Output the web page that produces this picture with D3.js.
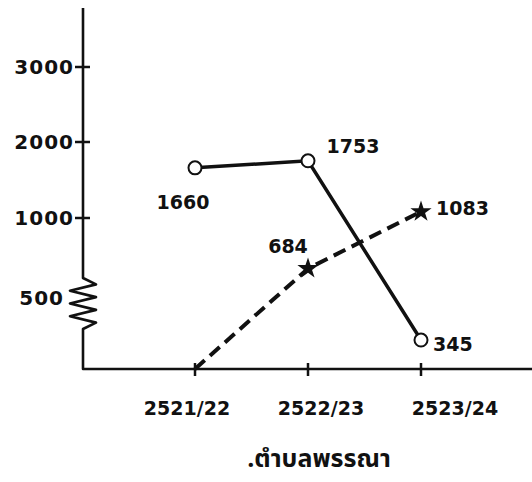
<!DOCTYPE html>
<html>
<head>
<meta charset="utf-8">
<script src="https://cdn.jsdelivr.net/npm/d3@7/dist/d3.min.js"></script>
<style>
  html, body { margin: 0; padding: 0; background: #fff; }
  svg { display: block; }
  text { font-family: "DejaVu Sans", sans-serif; font-weight: bold; fill: #111; }
</style>
</head>
<body>
<svg id="chart" width="532" height="482"></svg>
<script>
// ---- data ----
const years = ["2521/22", "2522/23", "2523/24"];
const seriesA = [1660, 1753, 345];      // solid line, open circles
const seriesB = [0, 684, 1083];         // dashed line, stars
const labelsB = [null, "684", "1083"];
const yTicks = [1000, 2000, 3000];
const breakTick = 500;
const title = ".ตำบลพรรณา";

// ---- layout ----
const svg = d3.select("#chart");
const axisX = 83, axisY = 369, axisTop = 8;

const x = d3.scalePoint().domain(years).range([195, 421]);
const xLabel = d3.scalePoint().domain(years).range([187, 455]);
// broken axis: 0–500 compressed below the zigzag, 500–3000 above it
const y = d3.scaleLinear()
  .domain([0, 500, 500, 1000, 2000, 3000])
  .range([axisY, 327, 298, 218, 142, 67]);

const ink = "#111";

// y axis with zigzag break
const zzTop = 278, zzBot = 329, n = 8;
const yAxisPts = [[axisX, axisTop], [axisX, zzTop]];
for (let i = 1; i < n; i++) {
  yAxisPts.push([i % 2 ? axisX + 13 : axisX - 13, zzTop + (zzBot - zzTop) * i / n]);
}
yAxisPts.push([axisX, zzBot], [axisX, axisY], [532, axisY]);
svg.append("path")
  .attr("d", d3.line()(yAxisPts))
  .attr("fill", "none").attr("stroke", ink).attr("stroke-width", 2.6)
  .attr("stroke-linejoin", "round");

// y ticks (cross the axis)
svg.selectAll(".ytick").data(yTicks).join("line")
  .attr("x1", axisX - 8).attr("x2", axisX + 7)
  .attr("y1", d => y(d)).attr("y2", d => y(d))
  .attr("stroke", ink).attr("stroke-width", 2.5);
svg.selectAll(".ylab").data(yTicks).join("text")
  .attr("x", axisX - 9).attr("y", d => y(d)).attr("dy", "0.36em")
  .attr("text-anchor", "end").attr("font-size", 20).attr("letter-spacing", 1)
  .text(d => d);
svg.append("text")
  .attr("x", axisX - 19).attr("y", y(breakTick)).attr("dy", "0.36em")
  .attr("text-anchor", "end").attr("font-size", 20).attr("letter-spacing", 1)
  .text(breakTick);

// x ticks
svg.selectAll(".xtick").data(years).join("line")
  .attr("x1", d => x(d)).attr("x2", d => x(d))
  .attr("y1", axisY - 6).attr("y2", axisY + 7)
  .attr("stroke", ink).attr("stroke-width", 2.5);
svg.selectAll(".xlab").data(years).join("text")
  .attr("x", d => xLabel(d)).attr("y", 408).attr("dy", "0.36em")
  .attr("text-anchor", "middle").attr("font-size", 19)
  .text(d => d);

// dashed series B
const ptsB = years.map((yr, i) => [x(yr), y(seriesB[i])]);
svg.append("path")
  .attr("d", d3.line()(ptsB))
  .attr("fill", "none").attr("stroke", ink).attr("stroke-width", 4)
  .attr("stroke-dasharray", "13 7");
svg.selectAll(".star").data(ptsB.slice(1)).join("path")
  .attr("transform", d => `translate(${d[0]},${d[1]})`)
  .attr("d", d3.symbol(d3.symbolStar, 140)())
  .attr("fill", ink);

// solid series A
const ptsA = years.map((yr, i) => [x(yr), y(seriesA[i])]);
svg.append("path")
  .attr("d", d3.line()(ptsA))
  .attr("fill", "none").attr("stroke", ink).attr("stroke-width", 3.5);
svg.selectAll(".circ").data(ptsA).join("circle")
  .attr("cx", d => d[0]).attr("cy", d => d[1]).attr("r", 6.5)
  .attr("fill", "#fff").attr("stroke", ink).attr("stroke-width", 2);

// value labels
const offA = [[-12, 34, "middle"], [45, -15, "middle"], [12, 4, "start"]];
svg.selectAll(".labA").data(seriesA).join("text")
  .attr("x", (d, i) => ptsA[i][0] + offA[i][0])
  .attr("y", (d, i) => ptsA[i][1] + offA[i][1]).attr("dy", "0.36em")
  .attr("text-anchor", (d, i) => offA[i][2]).attr("font-size", 19)
  .text(d => d);
const offB = [null, [-20, -22, "middle"], [15, -4, "start"]];
const labB = labelsB.map((t, i) => ({ t, i })).filter(d => d.t !== null);
svg.selectAll(".labB").data(labB).join("text")
  .attr("x", d => ptsB[d.i][0] + offB[d.i][0])
  .attr("y", d => ptsB[d.i][1] + offB[d.i][1]).attr("dy", "0.36em")
  .attr("text-anchor", d => offB[d.i][2]).attr("font-size", 19)
  .text(d => d.t);

// title
svg.append("text")
  .attr("x", 319).attr("y", 467)
  .attr("text-anchor", "middle").attr("font-size", 25)
  .style("font-family", "'Noto Sans Thai', 'Noto Sans', 'DejaVu Sans', sans-serif")
  .text(title);
</script>
</body>
</html>
